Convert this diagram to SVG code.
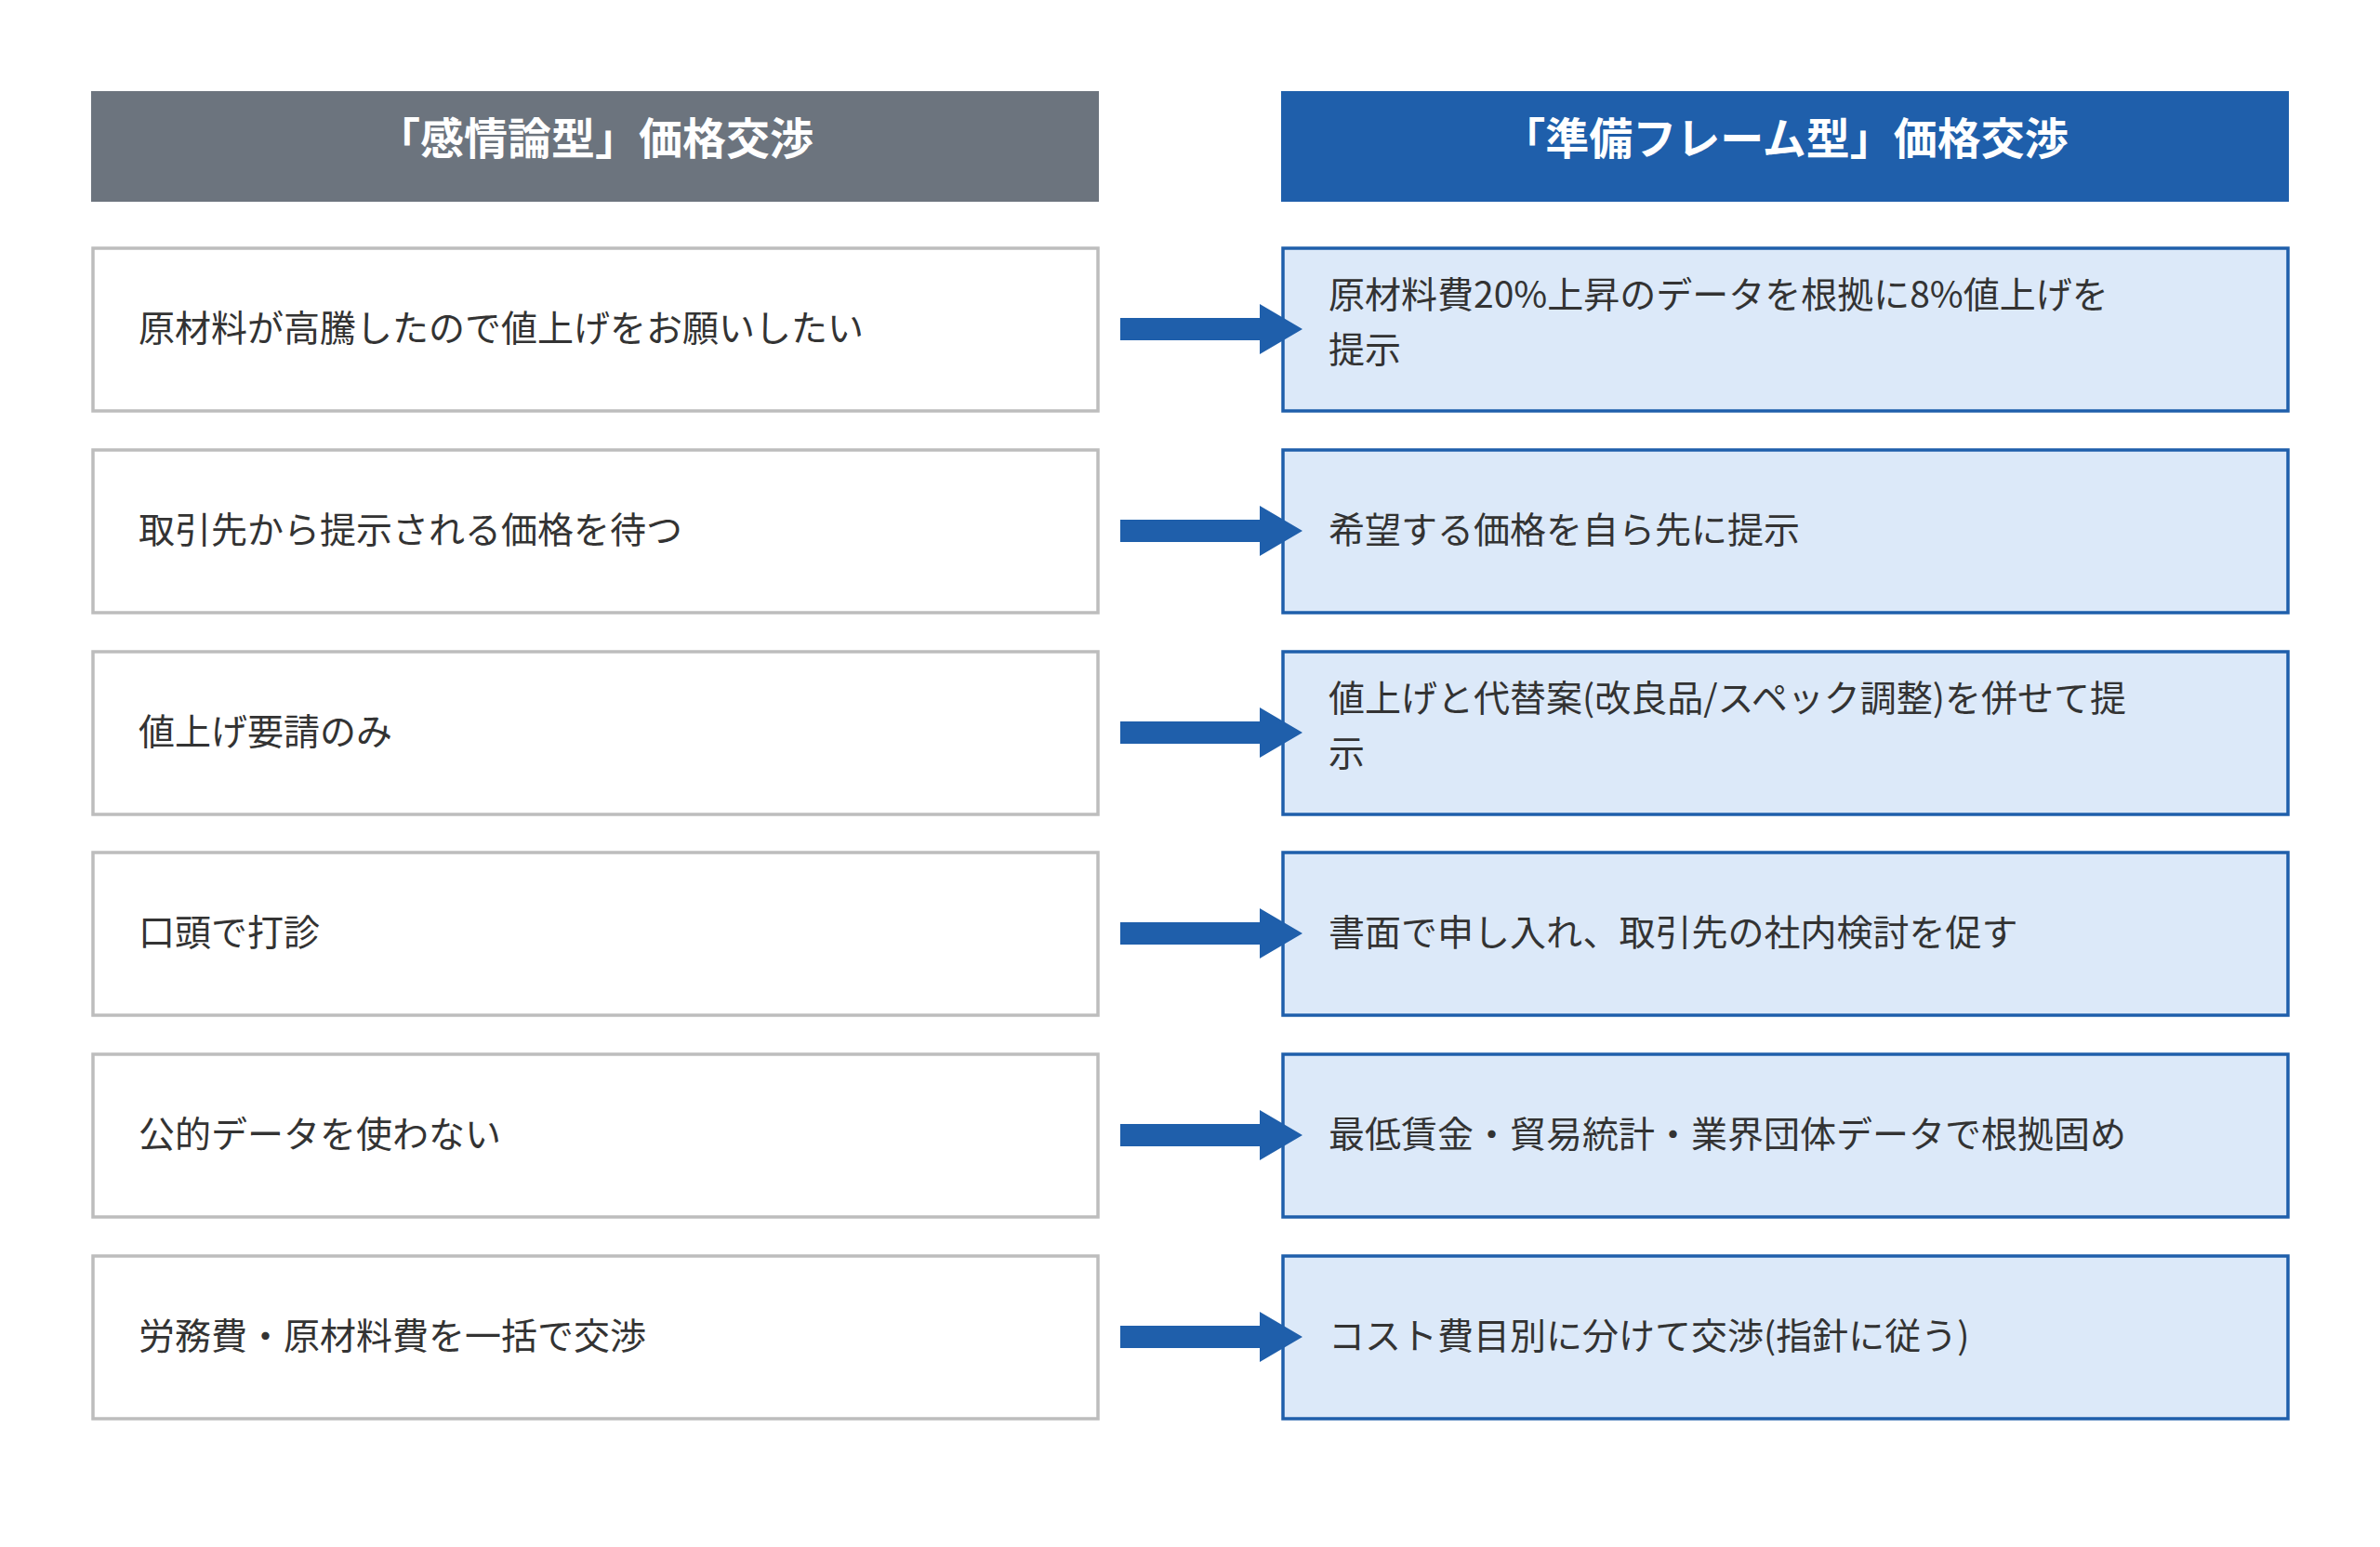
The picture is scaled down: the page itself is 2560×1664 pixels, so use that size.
<svg xmlns="http://www.w3.org/2000/svg" width="2560" height="1664" viewBox="0 0 2560 1664">
<style>
.hd{font-family:"Noto Sans CJK JP","Noto Sans",sans-serif;font-weight:bold;font-size:47px;fill:#fff;text-anchor:middle}
.t{font-family:"Noto Sans CJK JP","Noto Sans",sans-serif;font-size:39px;fill:#333}
.l{fill:#fff;stroke:#bdbdbd;stroke-width:3.5}
.r{fill:#dce9f9;stroke:#1f5fab;stroke-width:3.5}
.a{fill:#1f5fab}
</style>
<defs>
<path id="arr" d="M1205,-12 H1355 V-27 L1401,0 L1355,27 V12 H1205 Z"/>
</defs>
<rect width="2560" height="1664" fill="#fff"/>
<g id="hdrL"><rect x="98" y="98" width="1084" height="119" fill="#6c747e"/><text class="hd" x="640" y="166">「感情論型」価格交渉</text></g>
<g id="hdrR"><rect x="1378" y="98" width="1084" height="119" fill="#1f5fab"/><text class="hd" x="1920" y="166">「準備フレーム型」価格交渉</text></g>
<g id="L1"><rect class="l" x="100" y="267" width="1081" height="175"/><text class="t" x="149" y="367">原材料が高騰したので値上げをお願いしたい</text></g>
<g id="L2"><rect class="l" x="100" y="484" width="1081" height="175"/><text class="t" x="149" y="584">取引先から提示される価格を待つ</text></g>
<g id="L3"><rect class="l" x="100" y="701" width="1081" height="175"/><text class="t" x="149" y="801">値上げ要請のみ</text></g>
<g id="L4"><rect class="l" x="100" y="917" width="1081" height="175"/><text class="t" x="149" y="1017">口頭で打診</text></g>
<g id="L5"><rect class="l" x="100" y="1134" width="1081" height="175"/><text class="t" x="149" y="1234">公的データを使わない</text></g>
<g id="L6"><rect class="l" x="100" y="1351" width="1081" height="175"/><text class="t" x="149" y="1451">労務費・原材料費を一括で交渉</text></g>
<g id="R1"><rect class="r" x="1380" y="267" width="1081" height="175"/><text class="t" x="1429" y="331">原材料費20%上昇のデータを根拠に8%値上げを</text><text class="t" x="1429" y="390">提示</text></g>
<g id="R2"><rect class="r" x="1380" y="484" width="1081" height="175"/><text class="t" x="1429" y="584">希望する価格を自ら先に提示</text></g>
<g id="R3"><rect class="r" x="1380" y="701" width="1081" height="175"/><text class="t" x="1429" y="765">値上げと代替案(改良品/スペック調整)を併せて提</text><text class="t" x="1429" y="824">示</text></g>
<g id="R4"><rect class="r" x="1380" y="917" width="1081" height="175"/><text class="t" x="1429" y="1017">書面で申し入れ、取引先の社内検討を促す</text></g>
<g id="R5"><rect class="r" x="1380" y="1134" width="1081" height="175"/><text class="t" x="1429" y="1234">最低賃金・貿易統計・業界団体データで根拠固め</text></g>
<g id="R6"><rect class="r" x="1380" y="1351" width="1081" height="175"/><text class="t" x="1429" y="1451">コスト費目別に分けて交渉(指針に従う)</text></g>
<g id="connectors" class="a">
<use href="#arr" y="354"/><use href="#arr" y="571"/><use href="#arr" y="788"/><use href="#arr" y="1004"/><use href="#arr" y="1221"/><use href="#arr" y="1438"/>
</g>
</svg>
